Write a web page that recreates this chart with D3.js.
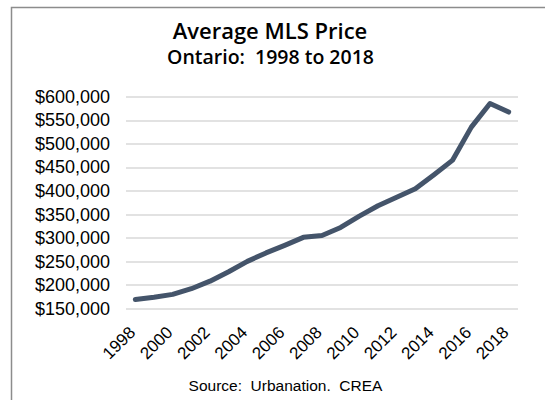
<!DOCTYPE html>
<html>
<head>
<meta charset="utf-8">
<script src="https://cdn.jsdelivr.net/npm/d3@7"></script>
<style>
  body { margin: 0; background: #fff; }
  text { font-family: "Liberation Sans", Arial, sans-serif; fill: #000; }
</style>
</head>
<body>
<svg id="chart"></svg>
<script>
// Data
const years = [1998, 1999, 2000, 2001, 2002, 2003, 2004, 2005, 2006, 2007, 2008,
  2009, 2010, 2011, 2012, 2013, 2014, 2015, 2016, 2017, 2018];
const prices = [169000, 174000, 180000, 192000, 208000, 228000, 250000, 268000, 284000, 301000, 305000,
  322000, 346000, 368000, 386000, 404000, 434000, 465000, 535000, 585000, 567000];
const yTicks = [150000, 200000, 250000, 300000, 350000, 400000, 450000, 500000, 550000, 600000];
const xTickYears = [1998, 2000, 2002, 2004, 2006, 2008, 2010, 2012, 2014, 2016, 2018];

const width = 545, height = 400;
const margin = { top: 96.5, right: 27, bottom: 91.5, left: 126 };

const svg = d3.select("#chart").attr("width", width).attr("height", height);

// Chart border
svg.append("rect")
  .attr("x", 11.5).attr("y", 7.5)
  .attr("width", 600).attr("height", 500)
  .attr("fill", "none").attr("stroke", "#8c8c8c").attr("stroke-width", 1.5);

const innerW = width - margin.left - margin.right;
const innerH = height - margin.top - margin.bottom;

const chart = svg.append("g")
  .attr("transform", `translate(${margin.left},${margin.top})`);

const xScale = d3.scaleBand().domain(years).range([0, innerW]);
const yScale = d3.scaleLinear().domain([150000, 600000]).range([innerH, 0]);

// Gridlines
chart.append("g")
  .selectAll("line")
  .data(yTicks)
  .join("line")
  .attr("x1", 0).attr("x2", innerW)
  .attr("y1", d => Math.round(yScale(d)) + 0.5)
  .attr("y2", d => Math.round(yScale(d)) + 0.5)
  .attr("stroke", "#d9d9d9").attr("stroke-width", 1.5);

// Y axis labels
const yAxis = d3.axisLeft(yScale)
  .tickValues(yTicks)
  .tickSize(0)
  .tickPadding(16)
  .tickFormat(d => "$" + d3.format(",")(d));

chart.append("g")
  .call(yAxis)
  .call(g => g.select(".domain").remove())
  .selectAll("text")
  .style("font-size", "18px")
  .style("font-family", "'Liberation Sans', Arial, sans-serif")
  .attr("fill", "#000");

// X axis labels, rotated
const xAxis = d3.axisBottom(xScale)
  .tickValues(xTickYears)
  .tickSize(0)
  .tickPadding(0);

chart.append("g")
  .attr("transform", `translate(0,${innerH})`)
  .call(xAxis)
  .call(g => g.select(".domain").remove())
  .selectAll("text")
  .style("font-size", "17px")
  .style("font-family", "'Liberation Sans', Arial, sans-serif")
  .attr("fill", "#000")
  .attr("y", 0)
  .attr("dy", 0)
  .attr("transform", "translate(1,25) rotate(-45)")
  .style("text-anchor", "end");

// Price line
const line = d3.line()
  .x((d, i) => xScale(years[i]) + xScale.bandwidth() / 2)
  .y(d => yScale(d));

chart.append("path")
  .datum(prices)
  .attr("d", line)
  .attr("fill", "none")
  .attr("stroke", "#44546a")
  .attr("stroke-width", 5)
  .attr("stroke-linejoin", "round")
  .attr("stroke-linecap", "round");

// Titles
svg.append("text")
  .attr("x", 270).attr("y", 38.5)
  .attr("text-anchor", "middle")
  .style("font-family", "'Open Sans', sans-serif")
  .style("font-weight", 600)
  .style("font-size", "22px")
  .text("Average MLS Price");

svg.append("text")
  .attr("x", 270.5).attr("y", 63.5)
  .attr("text-anchor", "middle")
  .style("font-family", "'Open Sans', sans-serif")
  .style("font-weight", 600)
  .style("font-size", "19.5px")
  .style("white-space", "pre")
  .text("Ontario:  1998 to 2018");

svg.append("text")
  .attr("x", 285.5).attr("y", 391)
  .attr("text-anchor", "middle")
  .style("font-size", "15.5px")
  .style("white-space", "pre")
  .text("Source:  Urbanation.  CREA");
</script>
</body>
</html>
